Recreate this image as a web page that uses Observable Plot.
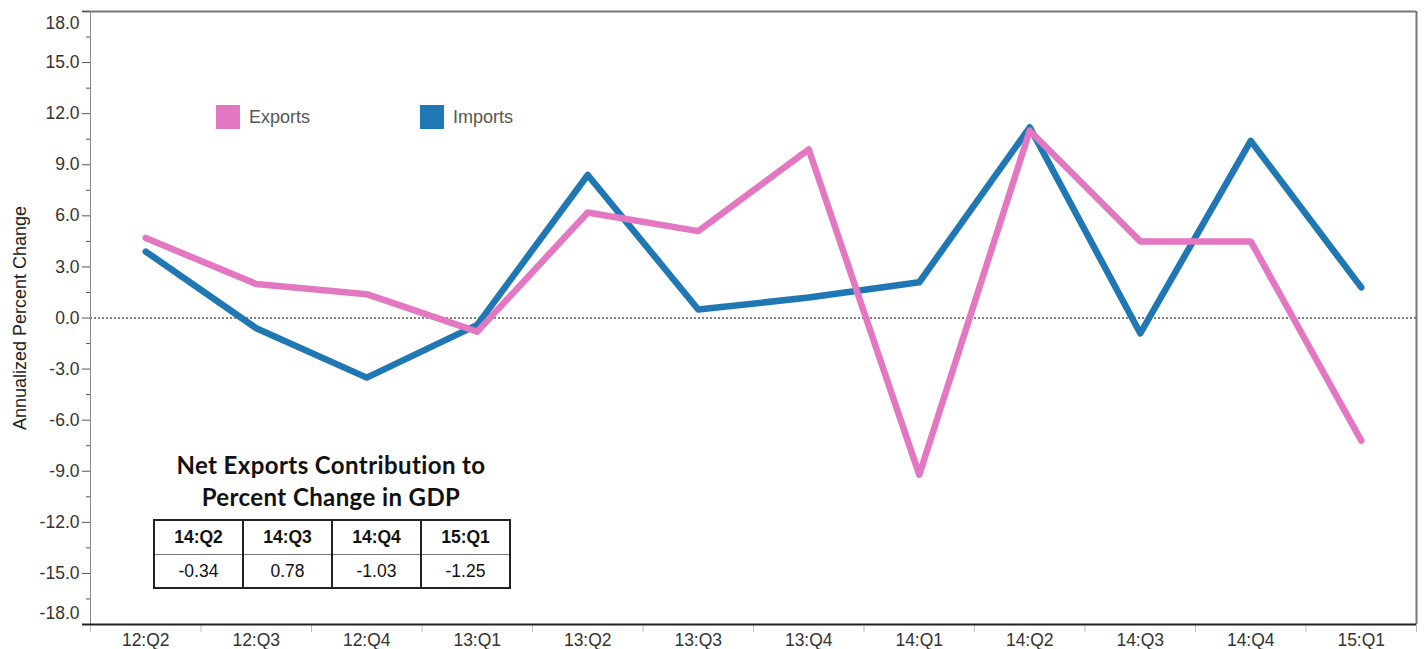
<!DOCTYPE html>
<html>
<head>
<meta charset="utf-8">
<script src="https://cdn.jsdelivr.net/npm/d3@7"></script>
<script src="https://cdn.jsdelivr.net/npm/@observablehq/plot@0.6"></script>
<style>
  body { margin: 0; background: #fff; }
  #wrap { position: relative; width: 1424px; height: 649px; }
  .legend-item { position: absolute; top: 105px; display: flex; align-items: center; font: 18px "Liberation Sans", Arial, sans-serif; color: #555; }
  .legend-item .swatch { width: 24px; height: 24px; margin-right: 9px; }
  #net-title { position: absolute; left: 120px; top: 449px; width: 422px; text-align: center; font: bold 24px Lato, "DejaVu Sans", sans-serif; letter-spacing: 0.4px; line-height: 32px; color: #111; }
  #net-table { position: absolute; left: 153px; top: 519px; border-collapse: collapse; border: 2px solid #222; font: 17.5px "Liberation Sans", Arial, sans-serif; color: #111; }
  #net-table td { width: 87px; text-align: center; padding: 0; border-left: 2px solid #222; border-right: 2px solid #222; }
  #net-table tr.head td { height: 33px; font-weight: bold; border-bottom: 1px solid #777; }
  #net-table tr.vals td { height: 32px; }
</style>
</head>
<body>
<div id="wrap"></div>
<script>
// Quarterly annualized percent change in real exports and imports
const quarters = ["12:Q2", "12:Q3", "12:Q4", "13:Q1", "13:Q2", "13:Q3", "13:Q4", "14:Q1", "14:Q2", "14:Q3", "14:Q4", "15:Q1"];
const exportsPct = [4.7, 2.0, 1.4, -0.8, 6.2, 5.1, 9.9, -9.2, 11.0, 4.5, 4.5, -7.2];
const importsPct = [3.9, -0.6, -3.5, -0.4, 8.4, 0.5, 1.2, 2.1, 11.2, -0.9, 10.4, 1.8];

const seriesNames = ["Exports", "Imports"];
const seriesColors = ["#e377c2", "#1f77b4"];

// Y axis: labelled ticks every 3 points, minor ticks halfway between
const yMajorTicks = [-18, -15, -12, -9, -6, -3, 0, 3, 6, 9, 12, 15, 18];
const yMinorTicks = [-16.5, -13.5, -10.5, -7.5, -4.5, -1.5, 1.5, 4.5, 7.5, 10.5, 13.5, 16.5];
const yTitle = "Annualized Percent Change";

// Net exports contribution to percent change in GDP
const netTitle = ["Net Exports Contribution to", "Percent Change in GDP"];
const netQuarters = ["14:Q2", "14:Q3", "14:Q4", "15:Q1"];
const netContribution = ["-0.34", "0.78", "-1.03", "-1.25"];

const idx = d3.range(quarters.length);
const xDomain = [-0.5, quarters.length - 0.5];
const yDomain = [yMajorTicks[0], yMajorTicks[yMajorTicks.length - 1]];
const bandEdges = d3.range(quarters.length + 1).map(i => i - 0.5);

const exportsRows = idx.map(i => ({i, value: exportsPct[i]}));
const importsRows = idx.map(i => ({i, value: importsPct[i]}));

const chart = Plot.plot({
  width: 1424,
  height: 649,
  marginLeft: 90,
  marginRight: 8,
  marginTop: 11,
  marginBottom: 25,
  x: {domain: xDomain},
  y: {domain: yDomain},
  style: {fontFamily: "'Liberation Sans', Arial, sans-serif", fontSize: "17.5px", color: "#333", background: "#fff"},
  marks: [
    // zero reference
    Plot.ruleY([0], {stroke: "#555", strokeWidth: 1.5, strokeDasharray: "2,2"}),
    // frame
    Plot.ruleY([yDomain[1]], {stroke: "#777", strokeWidth: 2, insetLeft: -8}),
    Plot.ruleX([xDomain[1]], {stroke: "#777", strokeWidth: 2}),
    Plot.ruleX([xDomain[0]], {stroke: "#888", strokeWidth: 1}),
    // y axis
    Plot.axisY(yMajorTicks, {tickSize: 8, tickPadding: 3, stroke: "#555", label: null,
      tickFormat: d => (d === yDomain[0] || d === yDomain[1]) ? "" : d.toFixed(1)}),
    Plot.axisY(yMinorTicks, {tickSize: 4, stroke: "#555", label: null, tickFormat: () => ""}),
    Plot.text([yDomain[1]], {y: d => d, frameAnchor: "left", dx: -11, dy: 12, textAnchor: "end", text: d => d.toFixed(1), fill: "#333"}),
    Plot.text([yDomain[0]], {y: d => d, frameAnchor: "left", dx: -11, dy: -11, textAnchor: "end", text: d => d.toFixed(1), fill: "#333"}),
    Plot.text([yTitle], {frameAnchor: "left", textAnchor: "middle", lineAnchor: "middle", dx: -70, rotate: -90, fontSize: 18, fill: "#222"}),
    // x axis
    Plot.axisX(bandEdges, {tickSize: 8, stroke: "#bbb", label: null, tickFormat: () => ""}),
    Plot.axisX(idx, {tickSize: 0, tickPadding: 9, label: null, tickFormat: i => quarters[i]}),
    Plot.ruleY([yDomain[0]], {stroke: "#222", strokeWidth: 2, insetLeft: -8}),
    // series
    Plot.line(importsRows, {x: "i", y: "value", stroke: seriesColors[1], strokeWidth: 6.5, strokeLinejoin: "round", strokeLinecap: "round"}),
    Plot.line(exportsRows, {x: "i", y: "value", stroke: seriesColors[0], strokeWidth: 6.5, strokeLinejoin: "round", strokeLinecap: "round"})
  ]
});

const wrap = document.getElementById("wrap");
wrap.appendChild(chart);

// legend
const legendLeft = [216, 420];
seriesNames.forEach((name, k) => {
  const item = document.createElement("div");
  item.className = "legend-item";
  item.style.left = legendLeft[k] + "px";
  const sw = document.createElement("div");
  sw.className = "swatch";
  sw.style.background = seriesColors[k];
  item.appendChild(sw);
  item.appendChild(document.createTextNode(name));
  wrap.appendChild(item);
});

// net exports table
const title = document.createElement("div");
title.id = "net-title";
title.innerHTML = netTitle.join("<br>");
wrap.appendChild(title);

const table = document.createElement("table");
table.id = "net-table";
const head = table.insertRow();
head.className = "head";
netQuarters.forEach(q => { head.insertCell().textContent = q; });
const vals = table.insertRow();
vals.className = "vals";
netContribution.forEach(v => { vals.insertCell().textContent = v; });
wrap.appendChild(table);
</script>
</body>
</html>
